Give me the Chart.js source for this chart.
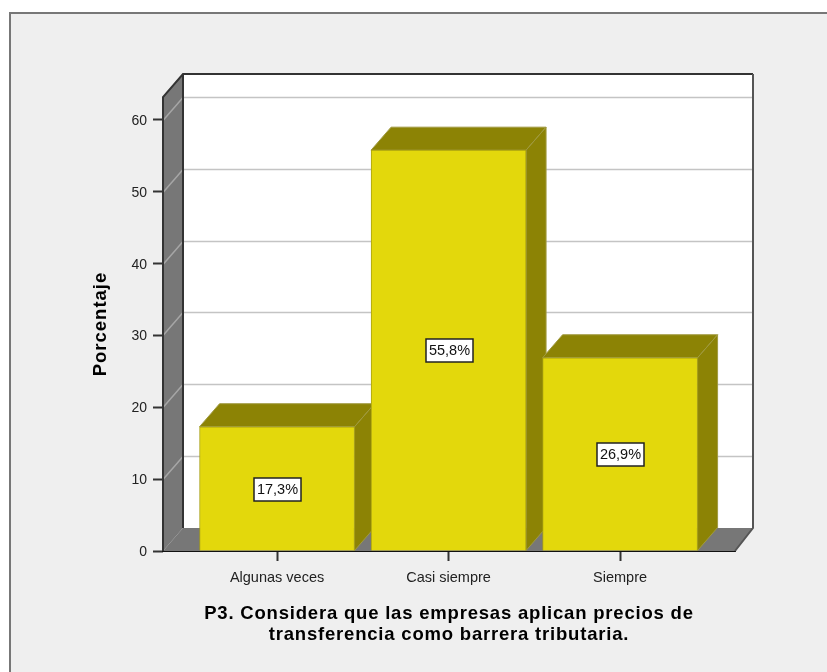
<!DOCTYPE html>
<html>
<head>
<meta charset="utf-8">
<title>P3</title>
<script src="https://cdn.jsdelivr.net/npm/chart.js@4"></script>
<style>
  html, body { margin: 0; padding: 0; background: #fff; }
  #panel { position: absolute; left: 9px; top: 12px; width: 818px; height: 660px;
           background: #efefef; border-left: 2px solid #777; border-top: 2px solid #777; box-sizing: border-box; }
  #chart { position: absolute; left: 0; top: 0; }
</style>
</head>
<body>
<div id="panel"></div>
<canvas id="chart" width="827" height="672"></canvas>
<script>
const categories = ['Algunas veces', 'Casi siempre', 'Siempre'];
const percentages = [17.3, 55.8, 26.9];
const yTicks = [0, 10, 20, 30, 40, 50, 60];
const yTitle = 'Porcentaje';
const xTitle = ['P3. Considera que las empresas aplican precios de', 'transferencia como barrera tributaria.'];

const depthX = 20;
const depthY = 23;
const barYellow = '#e3d80c';
const barDark = '#8c8305';
const wallGray = '#777777';
const gridGray = '#c4c4c4';
const axisDark = '#333333';

function poly(ctx, pts, fill, stroke) {
  ctx.beginPath();
  pts.forEach((p, i) => i ? ctx.lineTo(p[0], p[1]) : ctx.moveTo(p[0], p[1]));
  ctx.closePath();
  ctx.fillStyle = fill;
  ctx.fill();
  if (stroke) {
    ctx.strokeStyle = stroke;
    ctx.lineWidth = 1;
    ctx.stroke();
  }
}

// --- Box behind the bars, plus top and side faces of each bar ---
const box3d = {
  id: 'box3d',
  beforeDatasetsDraw(chart) {
    const ctx = chart.ctx;
    const { left, right, top, bottom } = chart.chartArea;
    const y = chart.scales.y;
    ctx.save();

    // back wall
    poly(ctx, [[left + depthX, top - depthY], [right + depthX - 2, top - depthY],
               [right + depthX - 2, bottom - depthY], [left + depthX, bottom - depthY]], '#ffffff');
    // left wall and floor
    poly(ctx, [[left, top], [left + depthX, top - depthY], [left + depthX, bottom - depthY], [left, bottom]], wallGray);
    poly(ctx, [[left, bottom], [left + depthX, bottom - depthY], [right + depthX - 2, bottom - depthY], [right, bottom]], wallGray);

    // grid lines run across the left wall and the back wall
    yTicks.slice(1).forEach(t => {
      const py = Math.round(y.getPixelForValue(t)) + 0.5;
      ctx.lineWidth = 1.5;
      ctx.strokeStyle = '#a6a6a6';
      ctx.beginPath();
      ctx.moveTo(left, py);
      ctx.lineTo(left + depthX, py - depthY);
      ctx.stroke();
      ctx.strokeStyle = gridGray;
      ctx.beginPath();
      ctx.moveTo(left + depthX, py - depthY);
      ctx.lineTo(right + depthX - 2, py - depthY);
      ctx.stroke();
    });

    // frame lines
    ctx.strokeStyle = axisDark;
    ctx.lineWidth = 2;
    ctx.beginPath();
    ctx.moveTo(left, bottom);
    ctx.lineTo(left, top);
    ctx.lineTo(left + depthX, top - depthY);
    ctx.lineTo(right + depthX - 2, top - depthY);
    ctx.stroke();
    ctx.beginPath();
    ctx.moveTo(left + depthX, top - depthY);
    ctx.lineTo(left + depthX, bottom - depthY);
    ctx.stroke();
    ctx.strokeStyle = '#555555';
    ctx.beginPath();
    ctx.moveTo(right + depthX - 2, top - depthY);
    ctx.lineTo(right + depthX - 2, bottom - depthY);
    ctx.lineTo(right, bottom);
    ctx.stroke();

    // bar top and side faces, left to right
    chart.getDatasetMeta(0).data.forEach(bar => {
      const l = bar.x - bar.width / 2;
      const r = bar.x + bar.width / 2;
      poly(ctx, [[l, bar.y], [l + depthX, bar.y - depthY], [r + depthX, bar.y - depthY], [r, bar.y]], barDark, '#a09a40');
      poly(ctx, [[r, bar.y], [r + depthX, bar.y - depthY], [r + depthX, bar.base - depthY], [r, bar.base]], barDark, '#a09a40');
    });
    ctx.restore();
  },
  afterDatasetsDraw(chart) {
    // value boxes in the middle of each bar
    const ctx = chart.ctx;
    ctx.save();
    ctx.font = '14.5px "Liberation Sans"';
    ctx.textAlign = 'center';
    ctx.textBaseline = 'middle';
    chart.getDatasetMeta(0).data.forEach((bar, i) => {
      const cx = Math.round(bar.x);
      const cy = Math.round((bar.y + bar.base) / 2);
      ctx.fillStyle = '#ffffff';
      ctx.strokeStyle = '#222222';
      ctx.lineWidth = 1.5;
      ctx.fillRect(cx - 23, cy - 11, 47, 23);
      ctx.strokeRect(cx - 23, cy - 11, 47, 23);
      ctx.fillStyle = '#111111';
      ctx.fillText(percentages[i].toFixed(1).replace('.', ',') + '%', cx + 0.5, cy + 1);
    });
    ctx.restore();
  },
  afterDraw(chart) {
    // axis titles are spaced out, which the scale title option can't do
    const ctx = chart.ctx;
    const { left, right } = chart.chartArea;
    ctx.save();
    ctx.fillStyle = '#000000';
    ctx.font = 'bold 18.5px "Liberation Sans"';
    ctx.textAlign = 'center';
    ctx.textBaseline = 'middle';
    ctx.letterSpacing = '0.8px';
    xTitle.forEach((line, i) => ctx.fillText(line, (left + right) / 2, 614 + i * 21));
    ctx.letterSpacing = '1px';
    ctx.translate(101, 324);
    ctx.rotate(-Math.PI / 2);
    ctx.fillText(yTitle, 0, 0);
    ctx.restore();
  }
};

new Chart(document.getElementById('chart'), {
  type: 'bar',
  data: {
    datasets: [{
      data: percentages.map((v, i) => ({ x: i, y: v })),
      backgroundColor: barYellow,
      borderColor: '#a8a010',
      borderWidth: 1,
      barThickness: 155
    }]
  },
  plugins: [box3d],
  options: {
    responsive: false,
    animation: false,
    layout: { padding: { top: 97, right: 92, left: 0, bottom: 0 } },
    plugins: { legend: { display: false }, tooltip: { enabled: false } },
    scales: {
      x: {
        type: 'linear',
        offset: false,
        min: -0.665,
        max: 2.67,
        afterBuildTicks: axis => { axis.ticks = categories.map((_, i) => ({ value: i })); },
        afterFit: axis => { axis.height = 121; },
        grid: { offset: false, drawOnChartArea: false, tickLength: 10, tickColor: '#333333', tickWidth: 2 },
        border: { color: '#111111', width: 2 },
        ticks: {
          callback: v => categories[v],
          color: '#222222',
          font: { family: 'Liberation Sans', size: 14.5 },
          padding: 8,
          maxRotation: 0,
          autoSkip: false
        }
      },
      y: {
        min: 0,
        max: 63.2,
        afterFit: axis => { axis.width = 163; },
        afterBuildTicks: axis => { axis.ticks = yTicks.map(value => ({ value })); },
        grid: { drawOnChartArea: false, tickLength: 10, tickColor: '#333333', tickWidth: 2 },
        border: { display: false },
        ticks: { color: '#222222', font: { family: 'Liberation Sans', size: 14 }, padding: 6, labelOffset: 1 }
      }
    }
  }
});
</script>
</body>
</html>
